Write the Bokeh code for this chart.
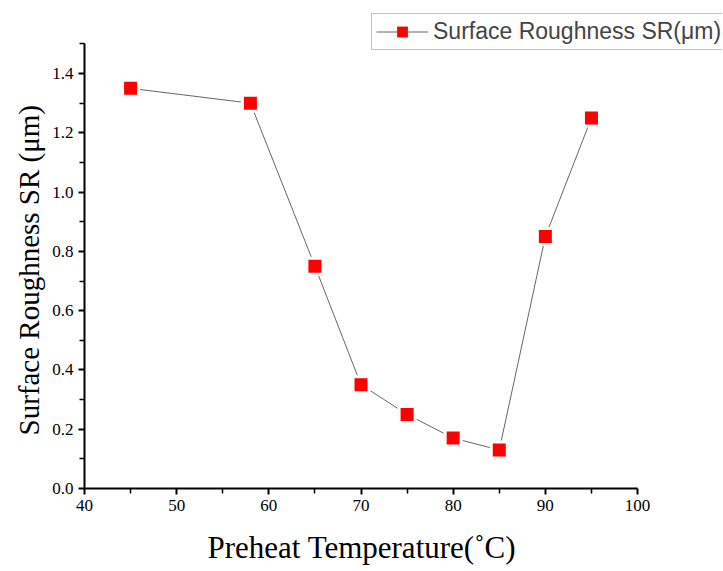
from bokeh.plotting import figure
from bokeh.models import Legend, LegendItem, Range1d, FixedTicker, PrintfTickFormatter, Title
from bokeh.embed import file_html
from bokeh.resources import INLINE

temps = [45, 58, 65, 70, 75, 80, 85, 90, 95]
roughness = [1.35, 1.30, 0.75, 0.35, 0.25, 0.17, 0.13, 0.85, 1.25]

x_ticks = [40, 50, 60, 70, 80, 90, 100]
y_ticks = [0.0, 0.2, 0.4, 0.6, 0.8, 1.0, 1.2, 1.4]
x_title = "Preheat Temperature(˚C)"
y_title = "Surface Roughness SR (μm)"
legend_label = "Surface Roughness SR(μm)"

p = figure(width=723, height=571, output_backend="svg", toolbar_location=None,
           x_range=Range1d(40, 109.22), y_range=Range1d(0, 1.6025),
           frame_width=638, frame_height=475,
           min_border_left=84, min_border_top=13, min_border_right=0, min_border_bottom=0)
p.outline_line_color = None
p.xgrid.visible = False
p.ygrid.visible = False

ln = p.line(temps, roughness, line_color="#666666", line_width=1)
wh = p.scatter(temps, roughness, marker="square", size=19, fill_color="white", line_color=None)
sq = p.scatter(temps, roughness, marker="square", size=13, fill_color="#ff0000", line_color=None)

for ax in (p.xaxis[0], p.yaxis[0]):
    ax.axis_line_width = 2
    ax.axis_line_color = "black"
    ax.major_tick_line_width = 2
    ax.minor_tick_line_width = 1.5
    ax.major_tick_out = 6
    ax.major_tick_in = 0
    ax.minor_tick_out = 5
    ax.minor_tick_in = 0
    ax.major_label_text_font = "Liberation Serif"
    ax.major_label_text_font_size = "17px"
    ax.major_label_text_color = "black"

p.xaxis.bounds = (40, 100)
p.yaxis.bounds = (0, 1.5)
p.xaxis.ticker = FixedTicker(ticks=x_ticks, minor_ticks=[45, 55, 65, 75, 85, 95])
p.yaxis.ticker = FixedTicker(ticks=y_ticks,
                             minor_ticks=[0.1, 0.3, 0.5, 0.7, 0.9, 1.1, 1.3, 1.5])
p.yaxis.formatter = PrintfTickFormatter(format="%.1f")

xt = Title(text=x_title, align="left", offset=123, text_font="Liberation Serif",
           text_font_size="31px", text_font_style="normal", text_color="black", standoff=28)
p.add_layout(xt, "below")
yt = Title(text=y_title, align="left", offset=53, text_font="Liberation Serif",
           text_font_size="29px", text_font_style="normal", text_color="black", standoff=10)
p.add_layout(yt, "left")

legend = Legend(items=[LegendItem(label=legend_label, renderers=[ln, wh, sq])],
                location=(287, 438), label_text_font="Liberation Sans",
                label_text_font_size="23px", glyph_width=52, glyph_height=27,
                border_line_color="#888888", border_line_width=1,
                padding=4, margin=0, spacing=0, label_standoff=5,
                background_fill_alpha=1)
p.add_layout(legend, "center")

open("out.html", "w").write(file_html(p, INLINE))
